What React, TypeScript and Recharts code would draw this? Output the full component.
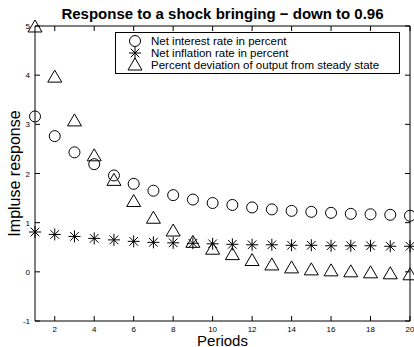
import { ScatterChart, Scatter, XAxis, YAxis, ReferenceArea, Legend } from 'recharts';

const periods = [1, 2, 3, 4, 5, 6, 7, 8, 9, 10, 11, 12, 13, 14, 15, 16, 17, 18, 19, 20];
const interestRate = [3.16, 2.76, 2.43, 2.19, 1.96, 1.79, 1.65, 1.56, 1.47, 1.4, 1.36, 1.31, 1.27, 1.24, 1.22, 1.2, 1.18, 1.17, 1.16, 1.14];
const inflationRate = [0.81, 0.76, 0.72, 0.68, 0.65, 0.62, 0.6, 0.59, 0.58, 0.57, 0.56, 0.55, 0.55, 0.54, 0.54, 0.53, 0.53, 0.53, 0.52, 0.52];
const outputDev = [4.98, 3.96, 3.07, 2.36, 1.86, 1.43, 1.09, 0.83, 0.6, 0.46, 0.35, 0.23, 0.14, 0.08, 0.04, 0.02, 0.0, -0.02, -0.04, -0.06];
const xTicks = [2, 4, 6, 8, 10, 12, 14, 16, 18, 20];
const yTicks = [-1, 0, 1, 2, 3, 4, 5];
const seriesNames = ['Net interest rate in percent', 'Net inflation rate in percent', 'Percent deviation of output from steady state'];

const W = 414;
const H = 347;
const MARGIN = { top: 26, right: 4, bottom: 0, left: 0 };
const Y_AXIS_W = 35;
const X_AXIS_H = 26;
const PLOT_L = MARGIN.left + Y_AXIS_W;
const PLOT_R = W - MARGIN.right;
const PLOT_T = MARGIN.top;
const PLOT_B = H - MARGIN.bottom - X_AXIS_H;
const FONT = '"Liberation Sans", Arial, Helvetica, sans-serif';

const toPoints = (vals: number[]) => periods.map((p, i) => ({ x: p, y: vals[i] }));

const CircleMark = ({ cx, cy }: any) => (
  <circle cx={cx} cy={cy} r={5.5} fill="none" stroke="#000" strokeWidth={1} />
);

const StarMark = ({ cx, cy }: any) => {
  const a = 6;
  const d = a * 0.72;
  return (
    <g stroke="#000" strokeWidth={1}>
      <line x1={cx - a} y1={cy} x2={cx + a} y2={cy} />
      <line x1={cx} y1={cy - a} x2={cx} y2={cy + a} />
      <line x1={cx - d} y1={cy - d} x2={cx + d} y2={cy + d} />
      <line x1={cx - d} y1={cy + d} x2={cx + d} y2={cy - d} />
    </g>
  );
};

const TriangleMark = ({ cx, cy }: any) => (
  <polygon
    points={`${cx},${cy - 7} ${cx - 7},${cy + 5} ${cx + 7},${cy + 5}`}
    fill="none"
    stroke="#000"
    strokeWidth={1}
  />
);

const XTick = ({ x, payload }: any) => (
  <g>
    <line x1={x} y1={PLOT_B} x2={x} y2={PLOT_B - 5} stroke="#000" />
    <line x1={x} y1={PLOT_T} x2={x} y2={PLOT_T + 5} stroke="#000" />
    <text x={x} y={PLOT_B + 11} textAnchor="middle" fontSize={8} fontFamily={FONT} fill="#000">
      {payload.value}
    </text>
  </g>
);

const YTick = ({ y, payload }: any) => (
  <g>
    <line x1={PLOT_L} y1={y} x2={PLOT_L + 5} y2={y} stroke="#000" />
    <line x1={PLOT_R} y1={y} x2={PLOT_R - 5} y2={y} stroke="#000" />
    <text x={PLOT_L - 5} y={y + 3} textAnchor="end" fontSize={8} fontFamily={FONT} fill="#000">
      {payload.value}
    </text>
  </g>
);

const marks = [CircleMark, StarMark, TriangleMark];

const LegendBox = () => (
  <div
    style={{
      border: '1px solid #000',
      background: '#fff',
      padding: '2px 0 2px 0',
      fontFamily: FONT,
      fontSize: 11.5,
      lineHeight: '12px',
      color: '#000',
    }}
  >
    {seriesNames.map((name, i) => {
      const Mark = marks[i];
      return (
        <div key={name} style={{ display: 'flex', alignItems: 'center', height: 12 }}>
          <svg width={30} height={14} style={{ marginLeft: 4, marginRight: 1 }}>
            <Mark cx={15} cy={7} />
          </svg>
          <span>{name}</span>
        </div>
      );
    })}
  </div>
);

export default function App() {
  return (
    <div style={{ position: 'absolute', left: 0, top: 0, width: W, height: H, background: '#fff' }}>
      <div
        style={{
          position: 'absolute',
          left: PLOT_L,
          width: PLOT_R - PLOT_L,
          top: 5,
          textAlign: 'center',
          fontFamily: FONT,
          fontWeight: 'bold',
          fontSize: 15,
          lineHeight: 'normal',
          color: '#000',
          whiteSpace: 'nowrap',
        }}
      >
        Response to a shock bringing − down to 0.96
      </div>
      <ScatterChart width={W} height={H} margin={MARGIN}>
        <XAxis
          type="number"
          dataKey="x"
          domain={[1, 20]}
          ticks={xTicks}
          tickLine={false}
          axisLine={false}
          tick={<XTick />}
          height={X_AXIS_H}
          interval={0}
          label={{
            value: 'Periods',
            position: 'insideBottom',
            offset: 1,
            fontSize: 15,
            fontFamily: FONT,
            fill: '#000',
          }}
        />
        <YAxis
          type="number"
          dataKey="y"
          domain={[-1, 5]}
          ticks={yTicks}
          tickLine={false}
          axisLine={false}
          tick={<YTick />}
          width={Y_AXIS_W}
          interval={0}
          label={{
            value: 'Impluse response',
            angle: -90,
            position: 'insideLeft',
            offset: 14,
            fontSize: 16,
            fontFamily: FONT,
            fill: '#000',
            style: { textAnchor: 'middle' },
          }}
        />
        <ReferenceArea x1={1} x2={20} y1={-1} y2={5} fill="none" stroke="#000" strokeWidth={1} />
        <Legend
          layout="vertical"
          align="center"
          verticalAlign="middle"
          content={<LegendBox />}
          wrapperStyle={{ position: 'absolute', left: 115, top: 32, width: 285 }}
        />
        <Scatter name={seriesNames[0]} data={toPoints(interestRate)} shape={<CircleMark />} isAnimationActive={false} />
        <Scatter name={seriesNames[1]} data={toPoints(inflationRate)} shape={<StarMark />} isAnimationActive={false} />
        <Scatter name={seriesNames[2]} data={toPoints(outputDev)} shape={<TriangleMark />} isAnimationActive={false} />
      </ScatterChart>
    </div>
  );
}
